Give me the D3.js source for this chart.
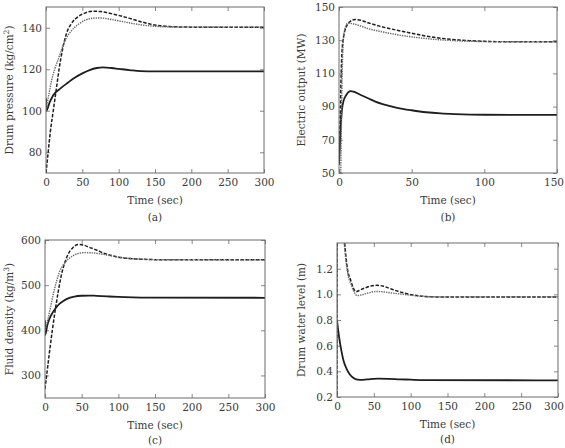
<!DOCTYPE html>
<html>
<head>
<meta charset="utf-8">
<script src="https://cdn.jsdelivr.net/npm/d3@7"></script>
<style>
  body { margin: 0; background: #fff; }
  text { font-family: "DejaVu Serif", serif; fill: #3a3a3a; }
</style>
</head>
<body>
<div id="chart"></div>
<script>
const svgWidth = 565;
const svgHeight = 448;

// (a) drum pressure, [time, value]
const aSolid = [[0,106],[0.4,100],[5,104],[10,107.5],[20,110.8],[30,113.5],[40,116],[50,118],[60,119.6],[70,120.6],[78,120.9],[90,120.6],[100,120.2],[115,119.6],[130,119.1],[150,119],[300,119]];
const aDashed = [[0,70],[3,80],[6,90],[10,100],[14,110],[18,120],[23,130],[28,137],[35,142],[45,145.5],[55,147.3],[65,148],[75,147.8],[90,146.8],[105,145.5],[120,144],[135,142.5],[150,141.3],[170,140.6],[200,140.3],[300,140.3]];
const aDotted = [[0,100],[4,108],[8,115],[12,120],[17,125],[22,130],[28,135],[35,138.5],[45,141.8],[55,143.8],[65,144.6],[75,144.7],[90,144],[105,143],[120,142],[135,141.2],[150,140.7],[170,140.4],[300,140.3]];
const aTicksX = [0, 50, 100, 150, 200, 250, 300];
const aTicksY = [80, 100, 120, 140];

// (b) electric output
const bSolid = [[0,55],[1,75],[2,88],[3,93],[5,97],[8,99.3],[10,99],[15,97],[20,95],[25,93],[30,91.5],[40,89.3],[50,87.8],[60,86.6],[70,85.9],[80,85.5],[100,85.1],[150,85]];
const bDashed = [[0,55],[0.5,70],[1,90],[1.5,110],[2,122],[3,131],[5,138],[8,141.5],[11,142.5],[15,142],[20,140.5],[30,138],[40,136],[50,134.2],[60,132.5],[70,131.2],[80,130.3],[90,129.7],[100,129.3],[120,129],[150,129]];
const bDotted = [[1.2,50],[1.6,75],[2,100],[2.5,120],[3,130],[4,136.5],[6,140.2],[9,140],[15,138.5],[20,137],[30,135],[40,133.3],[50,132],[60,131],[70,130.2],[80,129.7],[100,129.2],[150,129]];
const bTicksX = [0, 50, 100, 150];
const bTicksY = [50, 70, 90, 110, 130, 150];

// (c) fluid density
const cSolid = [[0,422],[0.3,390],[3,410],[6,425],[10,438],[15,450],[20,459],[25,465],[30,469.5],[40,474.5],[50,476.5],[60,477],[70,476.3],[85,475],[100,473.8],[120,472.8],[140,472.3],[300,472]];
const cDashed = [[0,270],[3,310],[6,350],[10,400],[14,445],[18,485],[22,520],[27,550],[32,570],[38,583],[45,590],[52,589],[60,584],[70,578],[80,571],[90,566],[100,562],[115,559],[130,557.5],[150,556.5],[300,556]];
const cDotted = [[0,400],[4,425],[8,455],[12,485],[16,510],[20,530],[25,545],[30,555],[38,565],[45,570],[55,572],[65,571.5],[75,569.5],[90,565],[105,561],[120,558.5],[140,557],[160,556.3],[300,556]];
const cTicksX = [0, 50, 100, 150, 200, 250, 300];
const cTicksY = [300, 400, 500, 600];

// (d) drum water level
const dSolid = [[0,0.8],[3,0.66],[6,0.56],[9,0.48],[13,0.42],[17,0.38],[22,0.35],[28,0.335],[35,0.333],[45,0.34],[55,0.343],[70,0.342],[85,0.338],[100,0.335],[120,0.332],[300,0.33]];
const dDashed = [[0,0.1],[0.3,2.0],[5,1.75],[9,1.5],[12,1.3],[15,1.17],[18,1.12],[22,1.05],[26,1.02],[30,1.03],[38,1.05],[46,1.065],[54,1.07],[62,1.065],[72,1.045],[85,1.02],[95,1.005],[105,0.993],[118,0.984],[135,0.98],[300,0.98]];
const dDotted = [[0,0.1],[0.3,2.0],[5,1.72],[9,1.45],[12,1.27],[15,1.15],[19,1.08],[23,1.02],[28,0.99],[33,0.995],[42,1.01],[52,1.022],[62,1.02],[75,1.01],[90,1.0],[105,0.99],[120,0.983],[140,0.98],[300,0.98]];
const dTicksX = [0, 50, 100, 150, 200, 250, 300];
const dTicksY = [0.2, 0.4, 0.6, 0.8, 1.0, 1.2];

const svg = d3.select("#chart")
  .append("svg")
  .attr("width", svgWidth)
  .attr("height", svgHeight);

const panels = [
  {id: "a", box: [46, 264, 7, 173], xDom: [0, 300], yDom: [70, 150], ticksX: aTicksX, ticksY: aTicksY,
   fmt: d3.format("d"), series: [aSolid, aDashed, aDotted], ylabel: ["Drum pressure (kg/cm", "2", ")"],
   ylx: 9, capY: 221},
  {id: "b", box: [339, 557, 7, 173], xDom: [0, 150], yDom: [50, 150], ticksX: bTicksX, ticksY: bTicksY,
   fmt: d3.format("d"), series: [bSolid, bDashed, bDotted], ylabel: ["Electric output (MW)"],
   ylx: 301, capY: 221},
  {id: "c", box: [45, 265, 240, 398], xDom: [0, 300], yDom: [250, 600], ticksX: cTicksX, ticksY: cTicksY,
   fmt: d3.format("d"), series: [cSolid, cDashed, cDotted], ylabel: ["Fluid density (kg/m", "3", ")"],
   ylx: 9, capY: 444},
  {id: "d", box: [337, 558, 243, 397], xDom: [0, 300], yDom: [0.2, 1.4], ticksX: dTicksX, ticksY: dTicksY,
   fmt: d3.format(".1f"), series: [dSolid, dDashed, dDotted], ylabel: ["Drum water level (m)"],
   ylx: 301, capY: 443}
];

const styles = [
  {stroke: "#1e1e1e", width: 1.8, dash: null},
  {stroke: "#1e1e1e", width: 1.5, dash: "3.5,1.6"},
  {stroke: "#6a6a6a", width: 1.4, dash: "1.4,1"}
];

panels.forEach(p => {
  const [left, right, top, bottom] = p.box;
  const x = d3.scaleLinear().domain(p.xDom).range([left, right]);
  const y = d3.scaleLinear().domain(p.yDom).range([bottom, top]);
  const g = svg.append("g");

  g.append("clipPath").attr("id", "clip-" + p.id)
    .append("rect")
    .attr("x", left).attr("y", top)
    .attr("width", right - left).attr("height", bottom - top);

  // inward ticks on all four sides
  const tl = 4;
  const frame = "#6a6a6a";
  g.append("g").attr("transform", `translate(0,${bottom})`)
    .call(d3.axisBottom(x).tickValues(p.ticksX).tickSize(-tl).tickPadding(6).tickFormat(d3.format("d")))
    .call(a => a.select(".domain").remove());
  g.append("g").attr("transform", `translate(0,${top})`)
    .call(d3.axisTop(x).tickValues(p.ticksX).tickSize(-tl).tickFormat(""))
    .call(a => a.select(".domain").remove());
  g.append("g").attr("transform", `translate(${left},0)`)
    .call(d3.axisLeft(y).tickValues(p.ticksY).tickSize(-tl).tickPadding(4).tickFormat(p.fmt))
    .call(a => a.select(".domain").remove());
  g.append("g").attr("transform", `translate(${right},0)`)
    .call(d3.axisRight(y).tickValues(p.ticksY).tickSize(-tl).tickFormat(""))
    .call(a => a.select(".domain").remove());

  g.selectAll(".tick line").attr("stroke", frame).attr("stroke-width", 0.8);
  g.selectAll(".tick text")
    .style("font-family", "DejaVu Serif, serif")
    .style("font-size", "10.5px")
    .attr("fill", "#3a3a3a");

  // keep the last x label inside the page
  g.selectAll(".tick text").each(function() {
    const b = this.getBBox();
    const m = this.parentNode.getAttribute("transform").match(/translate\(([-\d.]+)/);
    const tx = m ? +m[1] : 0;
    if (tx + b.x + b.width > svgWidth - 1) {
      d3.select(this).attr("dx", (svgWidth - 1) - (tx + b.x + b.width));
    }
  });

  const line = d3.line()
    .x(d => x(d[0]))
    .y(d => y(d[1]))
    .curve(d3.curveMonotoneX);

  const lines = g.append("g").attr("clip-path", `url(#clip-${p.id})`);
  p.series.forEach((s, i) => {
    lines.append("path")
      .datum(s)
      .attr("d", line)
      .attr("fill", "none")
      .attr("stroke", styles[i].stroke)
      .attr("stroke-width", styles[i].width)
      .attr("stroke-dasharray", styles[i].dash);
  });

  g.append("rect")
    .attr("x", left).attr("y", top)
    .attr("width", right - left).attr("height", bottom - top)
    .attr("fill", "none")
    .attr("stroke", frame)
    .attr("stroke-width", 1);

  // axis titles
  g.append("text")
    .attr("x", (left + right) / 2)
    .attr("y", bottom + 31)
    .attr("text-anchor", "middle")
    .style("font-size", "10.5px")
    .text("Time (sec)");

  const yl = g.append("text")
    .attr("transform", `translate(${p.ylx},${(top + bottom) / 2}) rotate(-90)`)
    .attr("text-anchor", "middle")
    .attr("dy", "0.35em")
    .style("font-size", "10.5px");
  yl.append("tspan").text(p.ylabel[0]);
  if (p.ylabel.length > 1) {
    yl.append("tspan").attr("baseline-shift", "super").style("font-size", "7.5px").text(p.ylabel[1]);
    yl.append("tspan").text(p.ylabel[2]);
  }

  g.append("text")
    .attr("x", (left + right) / 2)
    .attr("y", p.capY)
    .attr("text-anchor", "middle")
    .style("font-size", "10.5px")
    .text(`(${p.id})`);
});
</script>
</body>
</html>
